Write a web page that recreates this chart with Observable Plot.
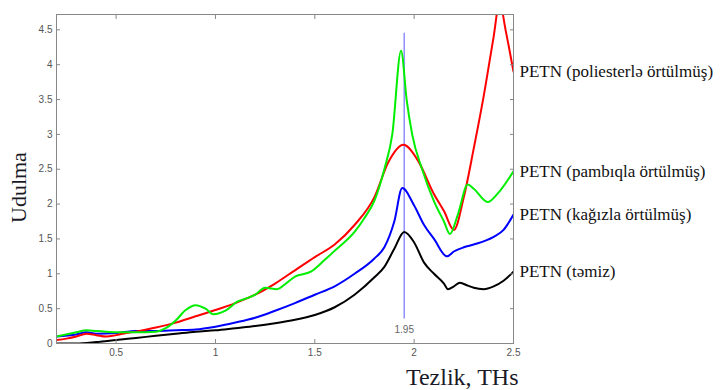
<!DOCTYPE html>
<html><head><meta charset="utf-8">
<script src="https://cdn.jsdelivr.net/npm/d3@7"></script>
<script src="https://cdn.jsdelivr.net/npm/@observablehq/plot@0.6"></script>
<style>body{margin:0;background:#fff}</style>
</head><body><div id="chart"></div>
<script>
// Frequency (THz) and absorption values for each series
const blackX = [0.2,0.3,0.4,0.5,0.6,0.7,0.8,0.9,1.0,1.1,1.2,1.3,1.4,1.5,1.6,1.7,1.8,1.85,1.9,1.95,2.0,2.05,2.1,2.15,2.17,2.2,2.23,2.27,2.3,2.35,2.4,2.45,2.5];
const blackY = [0.0,0.0,0.02,0.05,0.08,0.11,0.14,0.17,0.19,0.22,0.25,0.29,0.34,0.41,0.52,0.70,0.95,1.10,1.36,1.60,1.45,1.16,1.0,0.86,0.78,0.82,0.87,0.83,0.80,0.78,0.82,0.90,1.03];

const blueX = [0.2,0.3,0.35,0.4,0.5,0.6,0.7,0.8,0.9,1.0,1.1,1.2,1.3,1.4,1.5,1.6,1.7,1.8,1.85,1.9,1.94,2.0,2.05,2.1,2.165,2.2,2.25,2.3,2.4,2.45,2.5];
const blueY = [0.10,0.13,0.16,0.14,0.15,0.18,0.18,0.19,0.20,0.24,0.30,0.37,0.47,0.58,0.70,0.82,1.0,1.22,1.38,1.75,2.23,1.98,1.70,1.50,1.25,1.32,1.38,1.42,1.53,1.63,1.85];

const greenX = [0.2,0.3,0.35,0.4,0.45,0.5,0.6,0.7,0.75,0.8,0.85,0.9,0.95,0.99,1.05,1.11,1.16,1.2,1.25,1.31,1.35,1.4,1.48,1.55,1.6,1.7,1.75,1.8,1.85,1.89,1.934,1.963,1.99,2.04,2.1,2.15,2.18,2.22,2.27,2.3,2.37,2.42,2.5];
const greenY = [0.10,0.16,0.19,0.18,0.17,0.16,0.16,0.17,0.22,0.33,0.48,0.55,0.50,0.42,0.47,0.60,0.65,0.70,0.80,0.78,0.85,0.96,1.03,1.20,1.33,1.60,1.80,2.05,2.50,3.0,4.20,3.48,3.0,2.50,2.04,1.75,1.57,1.85,2.28,2.22,2.03,2.15,2.47];

const redX = [0.2,0.25,0.3,0.35,0.4,0.45,0.5,0.55,0.6,0.7,0.8,0.9,1.0,1.1,1.2,1.3,1.4,1.5,1.6,1.7,1.8,1.87,1.946,2.02,2.1,2.15,2.2,2.25,2.3,2.35,2.4,2.43,2.46,2.5];
const redY = [0.05,0.07,0.10,0.14,0.12,0.10,0.12,0.15,0.17,0.23,0.30,0.39,0.48,0.58,0.70,0.86,1.05,1.24,1.42,1.70,2.10,2.60,2.85,2.62,2.14,1.90,1.63,2.10,2.80,3.55,4.40,4.90,4.50,3.90];

const seriesNames = ["PETN (təmiz)", "PETN (kağızla örtülmüş)", "PETN (poliesterlə örtülmüş)", "PETN (pambıqla örtülmüş)"];
const seriesColors = ["#000000", "#0000ff", "#ff0000", "#00ee00"];
const xTicks = [0.5, 1, 1.5, 2, 2.5];
const yTicks = [0, 0.5, 1, 1.5, 2, 2.5, 3, 3.5, 4, 4.5];
const markerX = 1.95;
const markerRange = [0.35, 4.45];
const markerLabelY = 0.2;
const xTitle = "Tezlik, THs";
const yTitle = "Udulma";

const seriesData = [[blackX, blackY], [blueX, blueY], [redX, redY], [greenX, greenY]];
const rows = [];
const ends = [];
seriesData.forEach(([xs, ys], i) => {
  xs.forEach((x, j) => rows.push({series: seriesNames[i], x, y: ys[j]}));
  ends.push({series: seriesNames[i], x: xs[xs.length - 1], y: ys[ys.length - 1]});
});

const serif = "'Liberation Serif', 'Times New Roman', serif";
const fmt = d => String(d);
const chart = Plot.plot({
  width: 722, height: 390,
  marginLeft: 56, marginRight: 209, marginTop: 14, marginBottom: 47,
  x: {domain: [0.2, 2.5]},
  y: {domain: [0, 4.72]},
  color: {domain: seriesNames, range: seriesColors},
  style: {fontFamily: "'Liberation Sans', Arial, sans-serif", fontSize: "10px", color: "#555", background: "#fff"},
  marks: [
    Plot.ruleX([markerX], {x: d => d, y1: markerRange[0], y2: markerRange[1], stroke: "#8f8fff", strokeWidth: 1.5}),
    Plot.text([markerX], {x: d => d, y: markerLabelY, text: d => String(d), fill: "#666", fontSize: 10}),
    Plot.line(rows, {x: "x", y: "y", z: "series", stroke: "series", curve: "monotone-x", strokeWidth: 2, clip: true}),
    Plot.frame({stroke: "#888"}),
    Plot.axisX({ticks: xTicks, tickSize: 4, dy: -4, text: null, label: null, stroke: "#888"}),
    Plot.axisX({anchor: "top", ticks: xTicks, tickSize: 4, dy: 4, text: null, label: null, stroke: "#888"}),
    Plot.axisY({ticks: yTicks, tickSize: 4, dx: 4, text: null, label: null, stroke: "#888"}),
    Plot.axisY({anchor: "right", ticks: yTicks, tickSize: 4, dx: -4, text: null, label: null, stroke: "#888"}),
    Plot.axisX({ticks: xTicks, tickSize: 0, tickPadding: 5, label: null, tickFormat: fmt, fill: "#555"}),
    Plot.axisY({ticks: yTicks, tickSize: 0, tickPadding: 4, label: null, tickFormat: fmt, fill: "#555"}),
    Plot.text(ends, {x: "x", y: "y", text: "series", textAnchor: "start", dx: 6, fontFamily: serif, fontSize: 17, fill: "#111"}),
    Plot.text([yTitle], {text: d => d, frameAnchor: "left", rotate: -90, dx: -38, dy: 44, fontSize: 22, fontFamily: serif, fill: "#1a1a26"}),
    Plot.text([xTitle], {text: d => d, frameAnchor: "bottom-right", textAnchor: "end", lineAnchor: "middle", dx: 5, dy: 34, fontSize: 24, fontFamily: serif, fill: "#1a1a26"})
  ]
});
document.getElementById("chart").appendChild(chart);
</script>
</body></html>
